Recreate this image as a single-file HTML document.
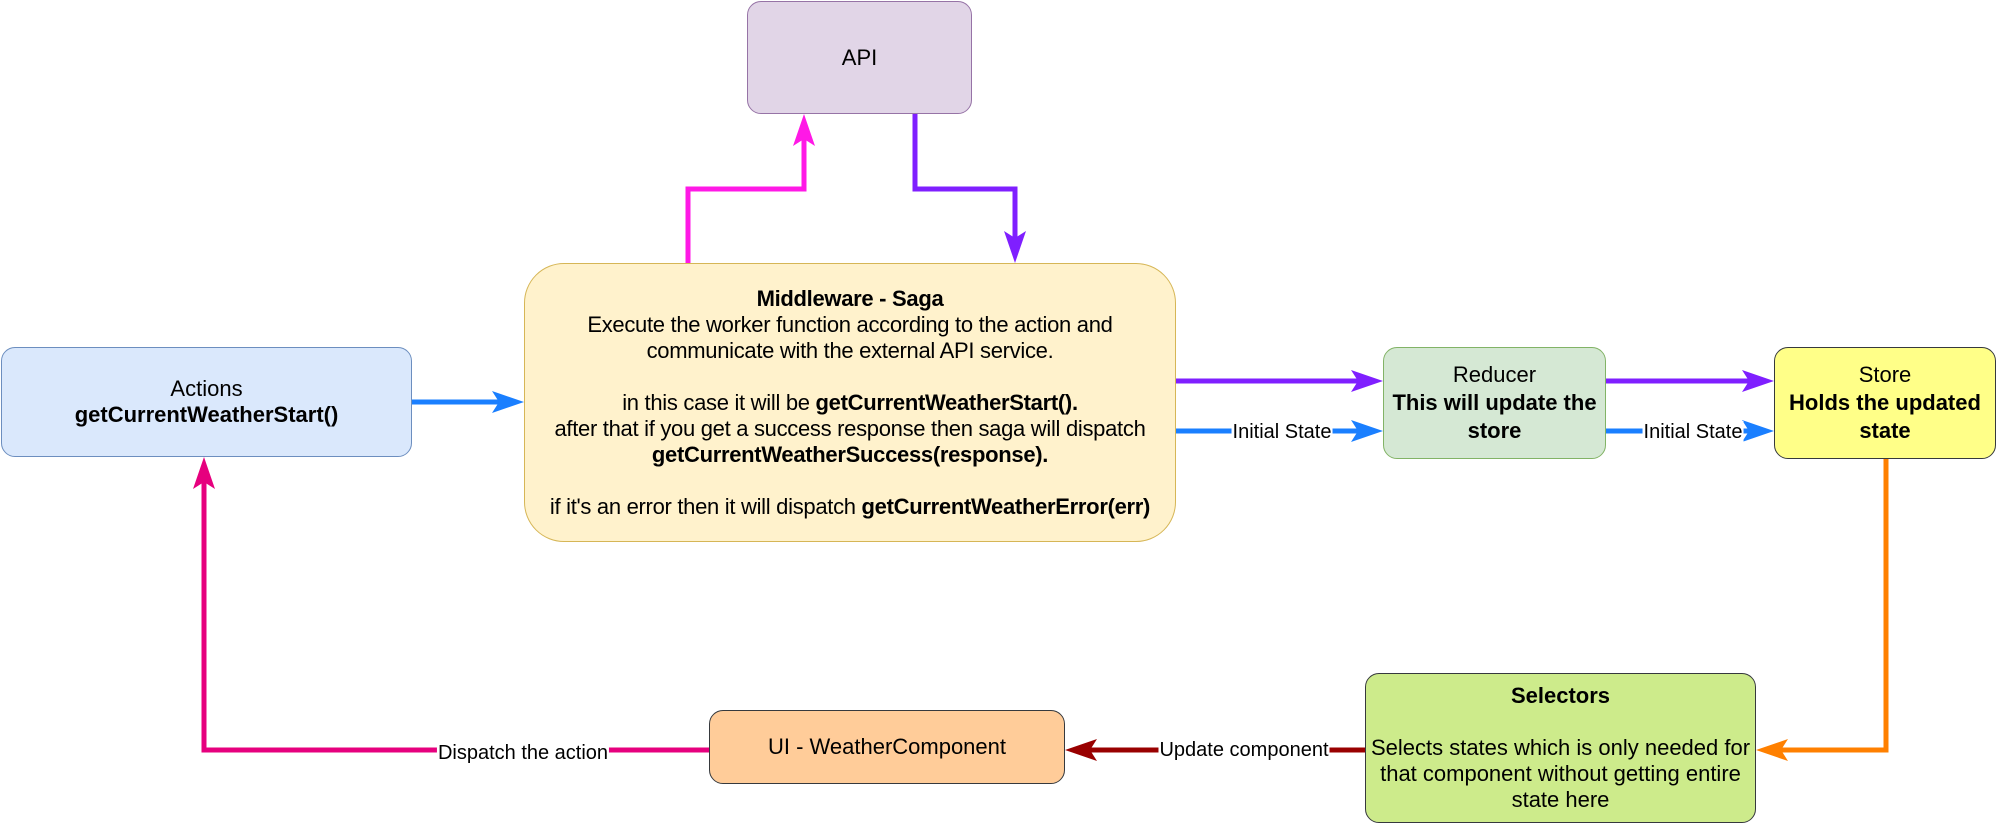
<!DOCTYPE html>
<html><head><meta charset="utf-8"><style>
body{margin:0;width:2000px;height:824px;background:#fff;position:relative;overflow:hidden;font-family:"Liberation Sans",sans-serif;color:#000}
.b{position:absolute;box-sizing:border-box;border:1.5px solid;border-radius:14px;display:flex;align-items:center;justify-content:center;text-align:center;font-size:22px;line-height:26px}
.l{position:absolute;font-size:20px;background:#fff;line-height:22px;padding:0 1px;white-space:nowrap;transform:translate(-50%,-50%)}
svg{position:absolute;left:0;top:0}
</style></head><body>
<svg width="2000" height="824" viewBox="0 0 2000 824">
<g fill="none" stroke-width="5">
<polyline points="688,263 688,189 804,189 804,130" stroke="#ff19e6"/>
<polyline points="915,114 915,189 1015,189 1015,248" stroke="#7f1fff"/>
<line x1="412" y1="402" x2="510" y2="402" stroke="#1a7fff"/>
<line x1="1176" y1="381" x2="1368" y2="381" stroke="#7f1fff"/>
<line x1="1176" y1="431" x2="1368" y2="431" stroke="#1a7fff"/>
<line x1="1606" y1="381" x2="1759" y2="381" stroke="#7f1fff"/>
<line x1="1606" y1="431" x2="1759" y2="431" stroke="#1a7fff"/>
<polyline points="1886,459 1886,750 1772,750" stroke="#ff8000"/>
<line x1="1365" y1="750" x2="1080" y2="750" stroke="#990000"/>
<polyline points="709,750 204,750 204,473" stroke="#e6007e"/>
</g>
<g>
<path d="M804,114 L815,146 L804,139 L793,146 Z" fill="#ff19e6"/>
<path d="M1015,263 L1004,231 L1015,238 L1026,231 Z" fill="#7f1fff"/>
<path d="M524,402 L492,391 L499,402 L492,413 Z" fill="#1a7fff"/>
<path d="M1383,381 L1351,370 L1358,381 L1351,392 Z" fill="#7f1fff"/>
<path d="M1383,431 L1351,420 L1358,431 L1351,442 Z" fill="#1a7fff"/>
<path d="M1774,381 L1742,370 L1749,381 L1742,392 Z" fill="#7f1fff"/>
<path d="M1774,431 L1742,420 L1749,431 L1742,442 Z" fill="#1a7fff"/>
<path d="M1756,750 L1788,739 L1781,750 L1788,761 Z" fill="#ff8000"/>
<path d="M1065,750 L1097,739 L1090,750 L1097,761 Z" fill="#990000"/>
<path d="M204,457 L215,489 L204,482 L193,489 Z" fill="#e6007e"/>
</g>
</svg>
<div class="b" style="left:747px;top:1px;width:225px;height:113px;background:#e1d5e7;border-color:#9673a6">API</div>
<div class="b" style="left:524px;top:263px;width:652px;height:279px;background:#fff2cc;border-color:#d6b656;border-radius:40px;white-space:nowrap">
<div style="letter-spacing:-0.3px"><b>Middleware - Saga</b><br>Execute the worker function according to the action and<br>communicate with the external API service.<br><br>in this case it will be <b>getCurrentWeatherStart().</b><br>after that if you get a success response then saga will dispatch<br><b>getCurrentWeatherSuccess(response).</b><br><br>if it's an error then it will dispatch <b>getCurrentWeatherError(err)</b></div></div>
<div class="b" style="left:1px;top:347px;width:411px;height:110px;background:#dae8fc;border-color:#6c8ebf"><div>Actions<br><b>getCurrentWeatherStart()</b></div></div>
<div class="b" style="left:1383px;top:347px;width:223px;height:112px;background:#d5e8d4;border-color:#82b366;line-height:28px"><div>Reducer<br><b>This will update the store</b></div></div>
<div class="b" style="left:1774px;top:347px;width:222px;height:112px;background:#ffff88;border-color:#36393d;line-height:28px"><div>Store<br><b>Holds the updated state</b></div></div>
<div class="b" style="left:1365px;top:673px;width:391px;height:150px;background:#cdeb8b;border-color:#36393d;padding:0 2px"><div><b>Selectors</b><br><br>Selects states which is only needed for that component without getting entire state here</div></div>
<div class="b" style="left:709px;top:710px;width:356px;height:74px;background:#ffcc99;border-color:#36393d">UI - WeatherComponent</div>
<div class="l" style="left:1282px;top:432px">Initial State</div>
<div class="l" style="left:1693px;top:432px">Initial State</div>
<div class="l" style="left:1244px;top:750px">Update component</div>
<div class="l" style="left:523px;top:753px">Dispatch the action</div>
</body></html>
